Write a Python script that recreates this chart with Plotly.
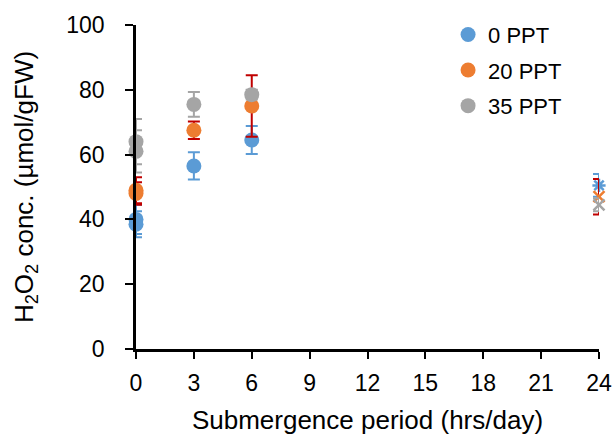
import plotly.graph_objects as go

series_names = ["0 PPT", "20 PPT", "35 PPT"]
hours = [0, 0, 3, 6]
blue_vals = [40.0, 38.5, 56.5, 64.5]
blue_err = [4.5, 4.0, 4.2, 4.3]
orange_vals = [49.0, 48.0, 67.5, 75.0]
orange_err = [4.0, 3.5, 2.7, 9.5]
gray_vals = [64.0, 61.0, 75.5, 78.5]
gray_err = [7.0, 6.5, 3.8, 1.5]

hours_24 = [24]
blue_24 = [50.5]
blue_24_err = [3.5]
orange_24 = [47.0]
orange_24_err = [5.5]
gray_24 = [44.5]
gray_24_err = [2.0]

x_ticks = [0, 3, 6, 9, 12, 15, 18, 21, 24]
y_ticks = [0, 20, 40, 60, 80, 100]

colors = ["#5B9BD5", "#ED7D31", "#A5A5A5"]
err_colors = ["#5B9BD5", "#C00000", "#A5A5A5"]
vals = [blue_vals, orange_vals, gray_vals]
errs = [blue_err, orange_err, gray_err]
vals24 = [blue_24, orange_24, gray_24]
errs24 = [blue_24_err, orange_24_err, gray_24_err]
sym24 = ["asterisk-open", "x-thin-open", "x-thin-open"]

fig = go.Figure()
for i in range(3):
    fig.add_trace(go.Scatter(
        x=hours, y=vals[i], mode="markers", name=series_names[i],
        legendgroup="g%d" % i,
        marker=dict(color=colors[i], size=15),
        error_y=dict(type="data", array=errs[i], color=err_colors[i], thickness=2, width=6),
        cliponaxis=False,
    ))
for i in range(3):
    fig.add_trace(go.Scatter(
        x=hours_24, y=vals24[i], mode="markers", showlegend=False,
        legendgroup="g%d" % i,
        marker=dict(color=colors[i], size=11, symbol=sym24[i], line=dict(width=2.5, color=colors[i])),
        error_y=dict(type="data", array=errs24[i], color=err_colors[i], thickness=2, width=6),
        cliponaxis=False,
    ))

font = "Liberation Sans, Arial, sans-serif"
fig.update_layout(
    width=615, height=436,
    margin=dict(l=136, r=16, t=25, b=87, autoexpand=False),
    paper_bgcolor="white", plot_bgcolor="white",
    font=dict(family=font, color="#000000"),
    legend=dict(x=0.674, y=1.035, xanchor="left", yanchor="top",
                font=dict(size=22, family=font), itemwidth=30,
                bgcolor="rgba(0,0,0,0)", tracegroupgap=4),
    xaxis=dict(range=[0, 24], tickmode="array", tickvals=x_ticks,
               tickfont=dict(size=23), showgrid=False, zeroline=False,
               showline=True, linecolor="black", linewidth=2.5,
               ticks="outside", ticklen=7, tickwidth=2, tickcolor="black",
               automargin=False, ticklabelstandoff=5,
               title=dict(text="Submergence period (hrs/day)", font=dict(size=26), standoff=16)),
    yaxis=dict(range=[0, 100], tickmode="array", tickvals=y_ticks,
               tickfont=dict(size=23), showgrid=False, zeroline=False,
               showline=True, linecolor="black", linewidth=2.5,
               ticks="outside", ticklen=8, tickwidth=2, tickcolor="black",
               automargin=False, ticklabelstandoff=16,
               title=dict(text="H<sub>2</sub>O<sub>2</sub> conc. (µmol/gFW)", font=dict(size=26), standoff=26)),
)
fig.write_html(
    "out.html",
    config={"displayModeBar": False},
    post_script="document.body.style.margin='0';document.body.style.overflow='hidden';",
)
